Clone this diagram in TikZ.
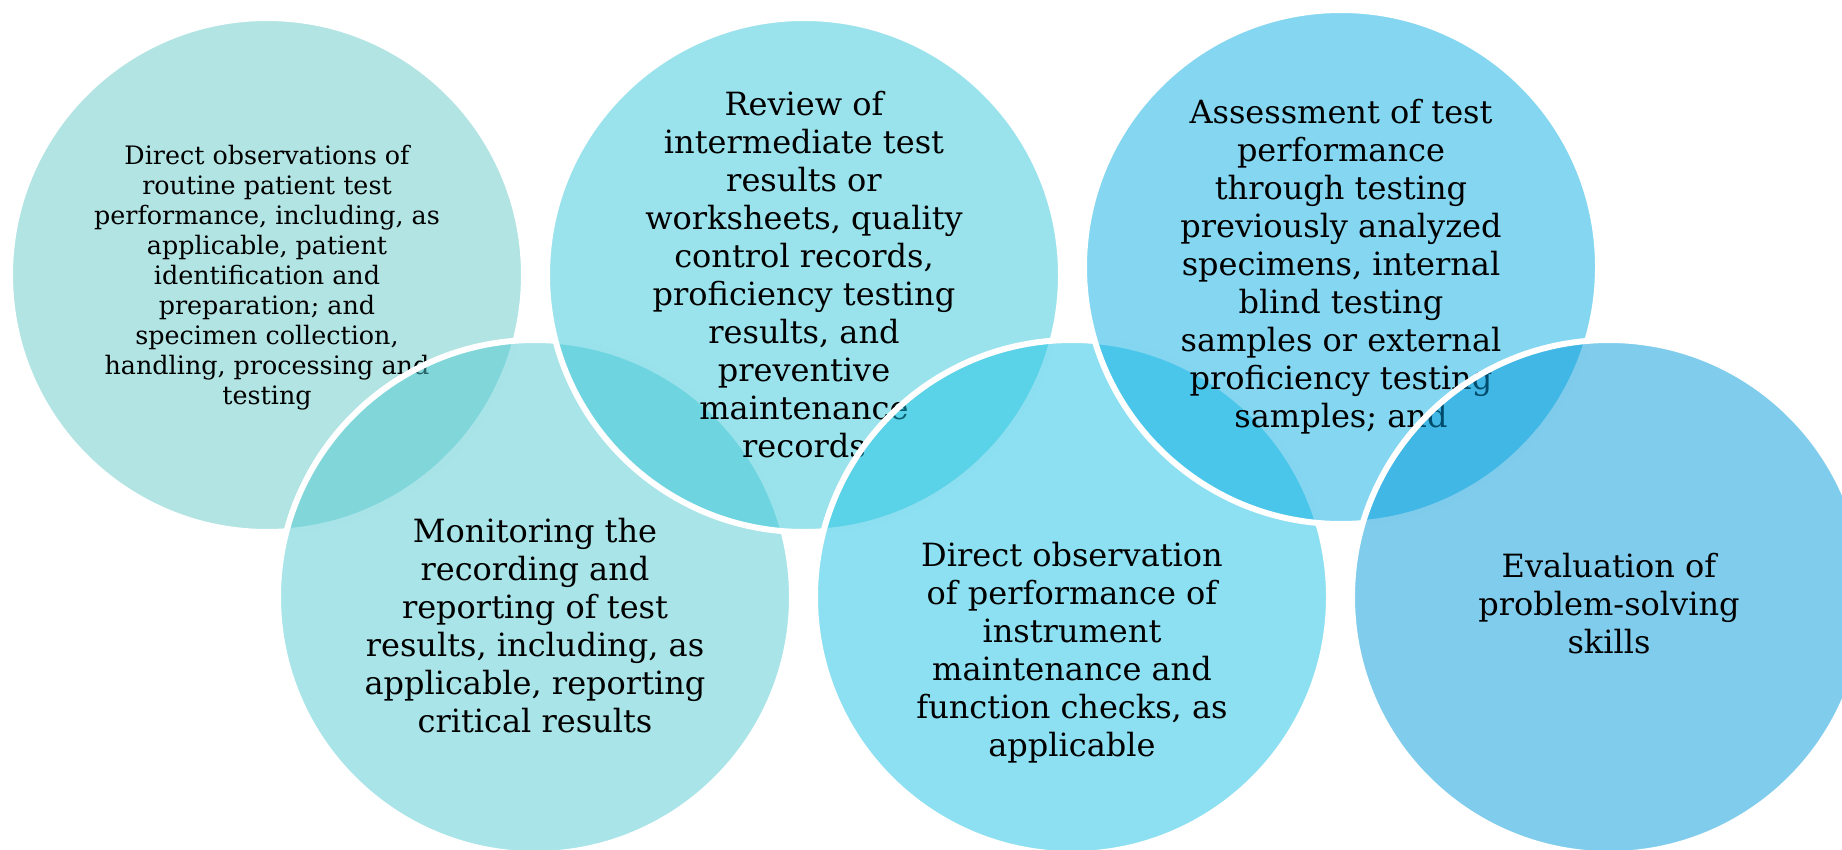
\documentclass[tikz,border=0pt]{standalone}
\usepackage{fontspec}
\setmainfont{DejaVu Serif}
\usepackage{tikz}

\definecolor{tealA}{RGB}{99,201,199}
\definecolor{tealB}{RGB}{81,201,209}
\definecolor{cyanA}{RGB}{55,199,217}
\definecolor{cyanB}{RGB}{27,193,227}
\definecolor{blueA}{RGB}{9,173,227}
\definecolor{blueB}{RGB}{1,153,217}

\begin{document}
\begin{tikzpicture}[x=0.5pt, y=-0.5pt]
\tikzstyle{circ} = [circle, minimum size=257pt, inner sep=0pt, outer sep=0pt, fill opacity=.5, draw=white, line width=3pt]
\tikzstyle{small} = [align=center, inner sep=0pt, font=\fontsize{12.7}{15}\selectfont]
\tikzstyle{big} = [align=center, inner sep=0pt, font=\fontsize{16}{19}\selectfont]

\useasboundingbox (0,0) rectangle (1842,850);
\clip (0,0) rectangle (1842,850);

% top row and bottom row, drawn left to right
\node[circ, fill=tealA] (c1) at (267,275) {};
\node[small, yshift=-1.5pt] (t1) at (c1) {Direct observations of\\routine patient test\\performance, including, as\\applicable, patient\\identification and\\preparation; and\\specimen collection,\\handling, processing and\\testing};

\node[circ, fill=tealB] (c2) at (535,597) {};
\node[big, yshift=-14.5pt] (t2) at (c2) {Monitoring the\\recording and\\reporting of test\\results, including, as\\applicable, reporting\\critical results};

\node[circ, fill=cyanA] (c3) at (804,275) {};
\node[big] (t3) at (c3) {Review of\\intermediate test\\results or\\worksheets, quality\\control records,\\proficiency testing\\results, and\\preventive\\maintenance\\records};

\node[circ, fill=cyanB] (c4) at (1072,597) {};
\node[big, yshift=-28pt] (t4) at (c4) {Direct observation\\of performance of\\instrument\\maintenance and\\function checks, as\\applicable};

\node[circ, fill=blueA] (c5) at (1341,267) {};
\node[big] (t5) at (c5) {Assessment of test\\performance\\through testing\\previously analyzed\\specimens, internal\\blind testing\\samples or external\\proficiency testing\\samples; and};

\node[circ, fill=blueB] (c6) at (1609,597) {};
\node[big, yshift=-3.5pt] (t6) at (c6) {Evaluation of\\problem-solving\\skills};
\end{tikzpicture}
\end{document}
